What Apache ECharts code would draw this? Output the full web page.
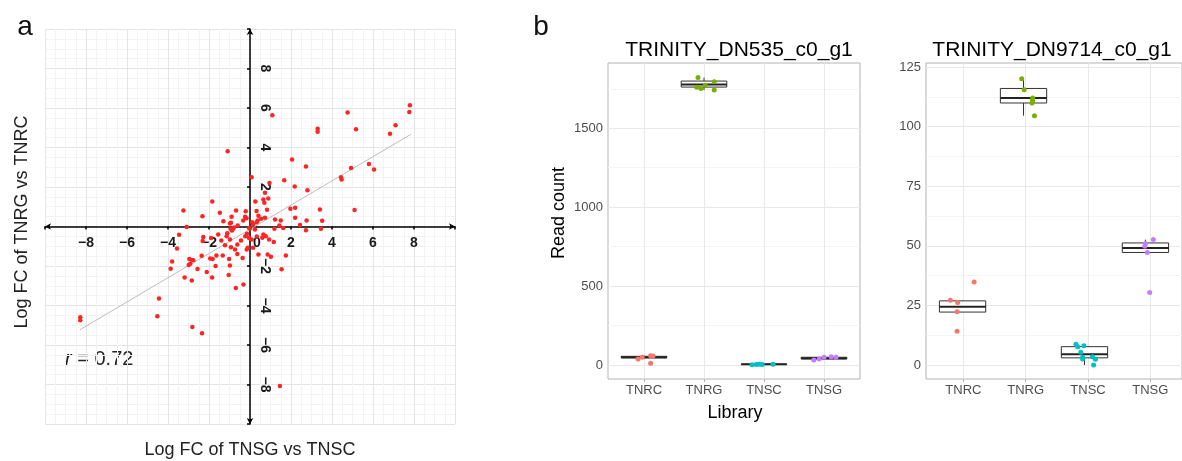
<!DOCTYPE html>
<html>
<head>
<meta charset="utf-8">
<title>Log FC and read counts</title>
<script src="https://cdn.jsdelivr.net/npm/echarts@6/dist/echarts.min.js"></script>
<style>
html, body { margin: 0; padding: 0; background: #fff; }
#main { width: 1182px; height: 461px; }
</style>
</head>
<body>
<div id="main"></div>
<script>
// ---- panel a : log fold change, TNSG vs TNSC (x) against TNRG vs TNRC (y)
var logFC = [
  [1.09,5.63],[-1.09,3.81],[3.3,4.95],[3.3,4.8],[4.76,5.77],[5.17,4.92],[7.8,6.14],[7.77,5.8],[7.1,5.13],[6.83,4.69],
  [2.05,3.39],[2.73,3.04],[5.8,3.16],[6.05,2.89],[4.93,2.96],[4.44,2.5],[4.47,2.38],[1.67,2.34],[2.18,2.02],[2.8,1.83],
  [0.08,2.5],[0.95,2.2],[0.73,1.71],[0.89,1.42],[0.26,1.26],[0.65,1.37],[0.7,1.2],[1.97,0.9],[2.2,0.95],[3.41,0.86],
  [5.1,0.83],[0.32,0.79],[0.83,0.85],[-0.68,0.81],[-0.21,0.77],[-3.25,0.81],[-2.32,0.52],[-1.47,0.69],[-0.24,0.49],[-0.17,0.42],
  [0.73,0.44],[1.22,0.36],[1.5,0.31],[2.2,0.44],[2.76,0.3],[3.52,0.29],[-1.3,0.27],[-0.98,0.15],[-0.9,0.5],[0.41,0.54],
  [0.54,0.39],[0.37,0.3],[0.33,0.22],[0.11,0.22],[-1.84,1.27],[-0.33,0.3],[-0.93,0.19],
  [1.62,-0.07],[2.44,0.07],[3.46,-0.12],[1.19,-0.12],[1.43,0.05],[2.73,-0.19],[-3.09,-0.03],[-0.78,-0.05],[-0.85,-0.15],
  [-0.05,-0.07],[0.24,-0.15],[0.0,-0.1],[-0.95,-0.1],[-0.88,-0.2],[0.15,0.1],[-0.6,0.05],
  [-3.46,-0.42],[-3.56,-1.12],[-3.8,-1.77],[-3.87,-2.14],[-2.96,-1.64],[-2.83,-1.69],[-2.91,-1.88],[-2.77,-1.71],[-2.99,-1.95],[-2.56,-2.15],
  [-3.19,-2.58],[-2.84,-2.74],[-2.36,-1.48],[-2.11,-2.3],[-1.85,-2.58],[-2.31,-0.73],[-2.28,-0.53],[-1.94,-1.62],[-1.64,-1.47],[-1.68,-2.0],
  [-1.9,-0.58],[-1.55,-0.41],[-1.4,-0.71],[-1.14,-0.49],[-1.22,-0.95],[-1.33,-1.47],[-0.98,-0.66],[-0.93,-1.05],[-1.02,-1.64],[-1.11,-0.34],
  [-0.73,-1.17],[-0.62,-0.91],[-0.62,-1.39],[-0.44,-0.71],[-0.36,-1.59],[-0.16,-1.17],[-0.23,-0.49],[-0.15,-0.37],[-0.06,-0.57],[-1.04,-2.45],
  [-0.69,-3.12],[-0.32,-2.94],[0.08,-0.66],[0.15,-1.08],[-0.11,-1.08],[0.33,-0.51],[0.65,-0.41],[0.6,-0.57],[0.77,-0.49],[0.93,-0.66],
  [1.16,-0.78],[0.41,-1.42],[0.86,-1.42],[1.02,-1.53],[1.75,-1.47],[1.54,-2.16],[-4.44,-3.64],[-4.52,-4.55],[-8.28,-4.6],[-8.28,-4.75],
  [-2.81,-5.09],[-2.34,-5.41],[1.46,-8.07],[-0.98,-1.98],[-1.82,-1.64]
];
var fitLine = [[-8.3,-5.23],[7.85,4.67]];
var rValue = '0.72';
var axisTicksA = [-8,-6,-4,-2,0,2,4,6,8];

// ---- panel b : read counts per library
var libraries = ['TNRC','TNRG','TNSC','TNSG'];
var libColors = ['#F8766D','#7CAE00','#00BFC4','#C77CFF'];
// [lower whisker, Q1, median, Q3, upper whisker]
var dn535Box = [[38,45,49,55,59],[1743,1761,1778,1799,1821],[2,3,4,5,6],[32,38,42,49,53]];
var dn9714Box = [[22.2,22.2,24.4,26.9,27.2],[104.6,109.9,112,116,120.1],[0,3,4.5,7.7,8.7],[47.2,47.2,49.1,51.2,52.6]];
// jittered points: [offset from library position, read count]
var dn535Points = [
  [[-0.10,38],[-0.03,49],[0.11,59],[0.15,57],[0.11,11]],
  [[-0.10,1821],[0.17,1795],[-0.12,1760],[0.17,1743],[0.02,1772],[-0.05,1752]],
  [[-0.20,2],[-0.13,3],[-0.08,4],[-0.03,3],[0.15,5]],
  [[-0.17,32],[-0.08,38],[0.0,49],[0.12,53],[0.2,49]]
];
var dn9714Points = [
  [[-0.2,27.2],[-0.08,26.2],[-0.09,22.3],[-0.09,14.2],[0.19,34.8]],
  [[-0.03,120.1],[0.01,115.5],[0.15,112],[0.15,110.9],[0.14,109.9],[0.18,104.6]],
  [[-0.14,8.7],[-0.11,7.7],[-0.01,8.1],[-0.06,5.3],[-0.03,3.2],[0.13,3.5],[0.18,2.4],[0.15,0],[-0.03,2.5]],
  [[0.13,52.6],[0.0,51],[-0.01,49.8],[0.03,47.2],[0.07,30.4]]
];

var FONT = '"Liberation Sans", Arial, sans-serif';
var myChart = echarts.init(document.getElementById('main'), null, { renderer: 'canvas' });

function minusSign(v) { return String(v).replace('-', '\u2212'); }

function renderBox(params, api) {
  var x = api.value(0);
  var lo = api.coord([x, api.value(1)]);
  var q1 = api.coord([x, api.value(2)]);
  var med = api.coord([x, api.value(3)]);
  var q3 = api.coord([x, api.value(4)]);
  var hi = api.coord([x, api.value(5)]);
  var half = api.size([0.76, 0])[0] / 2;
  var ln = { stroke: '#333', lineWidth: 1 };
  return {
    type: 'group',
    children: [
      { type: 'line', shape: { x1: lo[0], y1: lo[1], x2: q1[0], y2: q1[1] }, style: ln },
      { type: 'line', shape: { x1: q3[0], y1: q3[1], x2: hi[0], y2: hi[1] }, style: ln },
      { type: 'rect', shape: { x: q1[0] - half, y: q3[1], width: half * 2, height: q1[1] - q3[1] },
        style: { stroke: '#333', lineWidth: 1, fill: '#fff' } },
      { type: 'line', shape: { x1: med[0] - half, y1: med[1], x2: med[0] + half, y2: med[1] },
        style: { stroke: '#222', lineWidth: 2 } }
    ]
  };
}

// facet geometry: frame, category grid (inset 0.6 band), data grid
function facet(frameLeft, frameWidth, borderWidth, yTop, yHeight, yMax, yInterval, labelEvery, boxes, points) {
  var band = frameWidth / 4.2;
  var n = grids.length;
  grids.push({ left: frameLeft, top: 63, width: borderWidth, height: 316, show: true,
               borderColor: '#b3b3b3', borderWidth: 1, backgroundColor: 'transparent' });
  grids.push({ left: frameLeft + band * 0.6, top: 63, width: band * 3, height: 316 });
  grids.push({ left: frameLeft, top: yTop, width: frameWidth, height: yHeight });
  xAxes.push({ gridIndex: n, type: 'value', show: false });
  yAxes.push({ gridIndex: n, type: 'value', show: false });
  xAxes.push({
    gridIndex: n + 1, type: 'category', data: libraries, boundaryGap: false,
    axisLine: { show: false },
    axisTick: { show: true, length: 3, lineStyle: { color: '#b3b3b3' } },
    axisLabel: { margin: 5, fontSize: 13, color: '#4d4d4d', fontFamily: FONT },
    splitLine: { show: true, lineStyle: { color: '#e8e8e8', width: 1 } }
  });
  yAxes.push({ gridIndex: n + 1, type: 'value', show: false });
  xAxes.push({ gridIndex: n + 2, type: 'value', min: 0.4, max: 4.6, show: false });
  yAxes.push({
    gridIndex: n + 2, type: 'value', min: 0, max: yMax, interval: yInterval,
    axisLine: { show: false }, axisTick: { show: false },
    axisLabel: { margin: 5, fontSize: 13, color: '#4d4d4d', fontFamily: FONT,
      formatter: function (v) { return Math.round(v / yInterval) % labelEvery === 0 ? String(v) : ''; } },
    splitLine: { show: true, lineStyle: { color: ['#e8e8e8', '#f4f4f4'], width: 1 } }
  });
  series.push({
    type: 'custom', xAxisIndex: n + 2, yAxisIndex: n + 2, renderItem: renderBox, z: 2,
    encode: { x: 0, y: [1, 2, 3, 4, 5] },
    data: boxes.map(function (b, i) { return [i + 1].concat(b); })
  });
  points.forEach(function (pts, i) {
    series.push({
      type: 'scatter', xAxisIndex: n + 2, yAxisIndex: n + 2, clip: false, z: 3,
      symbolSize: 5, itemStyle: { color: libColors[i], opacity: 1 },
      data: pts.map(function (p) { return [i + 1 + p[0], p[1]]; })
    });
  });
}

// panel a grid: 410 x 395 px, origin at its centre
var grids = [{ left: 45, top: 29, width: 410, height: 395 }];
var aLabel = { fontSize: 14, fontWeight: 'bold', color: '#1a1a1a', fontFamily: FONT };
var xAxes = [{
  gridIndex: 0, type: 'value', min: -10, max: 10, interval: 2, position: 'bottom', offset: -197.5,
  axisLine: { onZero: false, symbol: ['arrow', 'arrow'], symbolSize: [5, 6], lineStyle: { color: '#000', width: 1.5 } },
  axisTick: { show: true, length: 3, lineStyle: { color: '#000', width: 1.5 } },
  axisLabel: Object.assign({ margin: 10, rich: { z: { fontSize: 14, fontWeight: 'bold', color: '#1a1a1a', fontFamily: FONT, padding: [0, 0, 0, 14] } },
    formatter: function (v) {
      if (axisTicksA.indexOf(v) < 0) return '';
      return v === 0 ? '{z|0}' : minusSign(v);
    } }, aLabel),
  splitLine: { show: true, lineStyle: { color: '#e4e4e4' } },
  minorTick: { show: false, splitNumber: 4 },
  minorSplitLine: { show: true, lineStyle: { color: '#f3f3f3' } }
}];
var yAxes = [{
  gridIndex: 0, type: 'value', min: -10, max: 10, interval: 2, position: 'left', offset: -205,
  axisLine: { onZero: false, symbol: ['arrow', 'arrow'], symbolSize: [5, 6], lineStyle: { color: '#000', width: 1.5 } },
  axisTick: { show: true, length: 3, lineStyle: { color: '#000', width: 1.5 } },
  axisLabel: Object.assign({ inside: true, rotate: -90, margin: 8,
    formatter: function (v) { return (v !== 0 && axisTicksA.indexOf(v) >= 0) ? minusSign(v) : ''; } }, aLabel),
  splitLine: { show: true, lineStyle: { color: '#e4e4e4' } },
  minorTick: { show: false, splitNumber: 4 },
  minorSplitLine: { show: true, lineStyle: { color: '#f3f3f3' } }
}];
var series = [
  { type: 'line', xAxisIndex: 0, yAxisIndex: 0, data: fitLine, symbol: 'none', z: 2,
    lineStyle: { color: '#bdbdbd', width: 1 } },
  { type: 'scatter', xAxisIndex: 0, yAxisIndex: 0, data: logFC, symbolSize: 4.5, z: 3,
    itemStyle: { color: '#ff2424', opacity: 1 } }
];

// left facet: 0 at y=365, 0.1578 px per read
facet(608, 252, 252, 88.8, 276.2, 1750, 250, 2, dn535Box, dn535Points);
// right facet: 0 at y=365, 2.384 px per read; its right edge is cut off by the image
facet(926, 261.7, 280, 67, 298, 125, 12.5, 2, dn9714Box, dn9714Points);

function txt(x, y, text, size, opts) {
  return Object.assign({
    type: 'text', x: x, y: y, silent: true,
    style: Object.assign({ text: text, fontSize: size, fontFamily: FONT, fill: '#111',
      align: 'center', verticalAlign: 'middle' }, (opts && opts.style) || {})
  }, (opts && opts.el) || {});
}

var option = {
  animation: false,
  backgroundColor: '#fff',
  grid: grids,
  xAxis: xAxes,
  yAxis: yAxes,
  series: series,
  graphic: [
    txt(25, 27, 'a', 28),
    txt(541, 27, 'b', 28),
    txt(250, 450, 'Log FC of TNSG vs TNSC', 18, { style: { fill: '#222' } }),
    txt(22, 222, 'Log FC of TNRG vs TNRC', 18, { style: { fill: '#222' }, el: { rotation: Math.PI / 2 } }),
    txt(65, 359, '{i|r} = ' + rValue, 20, { style: { align: 'left', fill: '#222',
      rich: { i: { fontStyle: 'italic', fontSize: 20, fontFamily: FONT, fill: '#222' } } } }),
    txt(739, 50, 'TRINITY_DN535_c0_g1', 21, { style: { fill: '#000' } }),
    txt(1052, 50, 'TRINITY_DN9714_c0_g1', 21, { style: { fill: '#000' } }),
    txt(559, 213, 'Read count', 18, { style: { fill: '#000' }, el: { rotation: Math.PI / 2 } }),
    txt(735, 413, 'Library', 18, { style: { fill: '#000' } })
  ]
};
myChart.setOption(option);
window.onresize = myChart.resize;
</script>
</body>
</html>
